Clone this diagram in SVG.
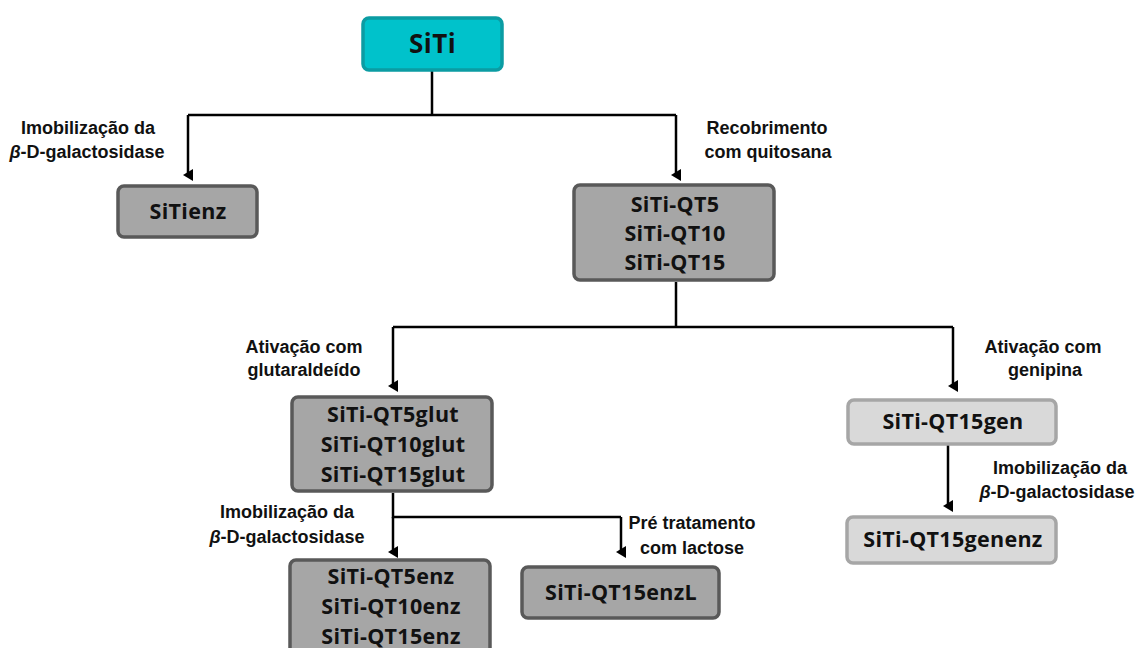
<svg xmlns="http://www.w3.org/2000/svg" width="1135" height="648" viewBox="0 0 1135 648">
<defs>
<marker id="arr" markerWidth="12" markerHeight="11" refX="6" refY="5" orient="auto" markerUnits="userSpaceOnUse" viewBox="0 0 12 10">
<path d="M0,0 L12,0 L6,10 Z" fill="#000"/>
</marker>
</defs>
<style>
.box{stroke-width:3.5}
.dark{fill:#a6a6a6;stroke:#595959}
.light{fill:#d9d9d9;stroke:#a6a6a6}
.teal{fill:#00c2cb;stroke:#0b9ca3}
.nt{font-family:"Open Sans",sans-serif;font-weight:bold;font-size:21.5px;letter-spacing:0.3px;fill:#111;text-anchor:middle}
.big{font-size:26px;letter-spacing:0.5px}
.lb{font-family:"Liberation Sans",Arial,sans-serif;font-weight:bold;font-size:18px;fill:#111;text-anchor:middle}
.ln{fill:none;stroke:#000;stroke-width:2.5}
</style>
<rect width="1135" height="648" fill="#fff"/>
<g id="connectors">
<path class="ln" d="M432,71 V115 M188,115 H676"/>
<path class="ln" d="M188,115 V175" marker-end="url(#arr)"/>
<path class="ln" d="M676,115 V175" marker-end="url(#arr)"/>
<path class="ln" d="M676,282 V327 M393,327 H953"/>
<path class="ln" d="M393,327 V386" marker-end="url(#arr)"/>
<path class="ln" d="M953,327 V386" marker-end="url(#arr)"/>
<path class="ln" d="M948,445 V506" marker-end="url(#arr)"/>
<path class="ln" d="M393,493 V517 H621"/>
<path class="ln" d="M393,517 V552" marker-end="url(#arr)"/>
<path class="ln" d="M621,517 V552" marker-end="url(#arr)"/>
<text class="lb" x="88" y="134">Imobilização da</text>
<text class="lb" x="87" y="158"><tspan font-style="italic">β</tspan>-D-galactosidase</text>
<text class="lb" x="767" y="134">Recobrimento</text>
<text class="lb" x="768" y="158">com quitosana</text>
<text class="lb" x="304" y="353">Ativação com</text>
<text class="lb" x="304" y="376">glutaraldeído</text>
<text class="lb" x="1043" y="353">Ativação com</text>
<text class="lb" x="1045" y="376">genipina</text>
<text class="lb" x="1060" y="474">Imobilização da</text>
<text class="lb" x="1057" y="498"><tspan font-style="italic">β</tspan>-D-galactosidase</text>
<text class="lb" x="287" y="518">Imobilização da</text>
<text class="lb" x="287" y="543"><tspan font-style="italic">β</tspan>-D-galactosidase</text>
<text class="lb" x="692" y="529">Pré tratamento</text>
<text class="lb" x="692" y="554">com lactose</text>
</g>
<g id="siti">
<rect class="box teal" x="363" y="18" width="139" height="52" rx="6"/>
<text class="nt big" x="432.5" y="53">SiTi</text>
</g>
<g id="sitienz">
<rect class="box dark" x="118" y="186" width="139" height="51" rx="6"/>
<text class="nt" x="188" y="219">SiTienz</text>
</g>
<g id="qt">
<rect class="box dark" x="574" y="185" width="200" height="95" rx="6"/>
<text class="nt" x="675" y="212">SiTi-QT5</text>
<text class="nt" x="675" y="241">SiTi-QT10</text>
<text class="nt" x="675" y="270">SiTi-QT15</text>
</g>
<g id="glut">
<rect class="box dark" x="292" y="397" width="200" height="94" rx="6"/>
<text class="nt" x="393" y="422">SiTi-QT5glut</text>
<text class="nt" x="393" y="452">SiTi-QT10glut</text>
<text class="nt" x="393" y="482">SiTi-QT15glut</text>
</g>
<g id="gen">
<rect class="box light" x="848" y="400" width="208" height="44" rx="6"/>
<text class="nt" x="953" y="429">SiTi-QT15gen</text>
</g>
<g id="genenz">
<rect class="box light" x="847" y="517" width="209" height="46" rx="6"/>
<text class="nt" x="953" y="547">SiTi-QT15genenz</text>
</g>
<g id="enz">
<rect class="box dark" x="290" y="560" width="200" height="100" rx="6"/>
<text class="nt" x="391" y="584">SiTi-QT5enz</text>
<text class="nt" x="391" y="614">SiTi-QT10enz</text>
<text class="nt" x="391" y="644">SiTi-QT15enz</text>
</g>
<g id="enzl">
<rect class="box dark" x="522" y="567" width="197" height="51" rx="6"/>
<text class="nt" x="621" y="600">SiTi-QT15enzL</text>
</g>
</svg>
